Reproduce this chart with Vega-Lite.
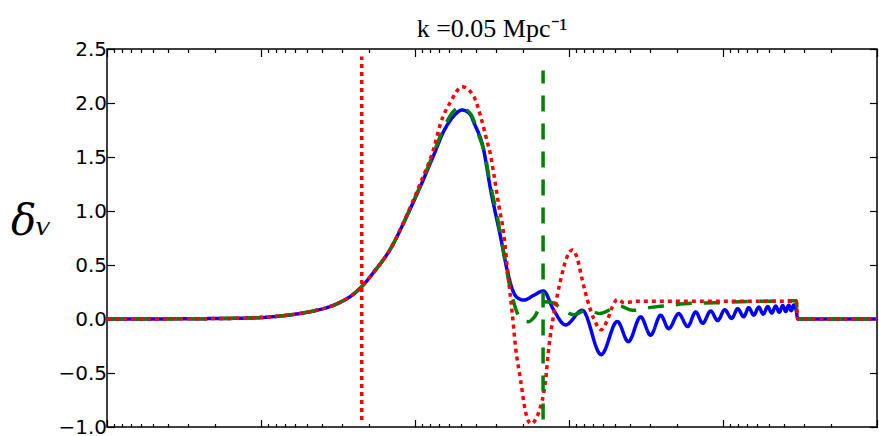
{
  "$schema": "https://vega.github.io/schema/vega-lite/v6.json",
  "width": 770,
  "height": 378,
  "autosize": {"type": "none"},
  "padding": {"left": 107, "top": 49, "right": 2, "bottom": 9},
  "background": "white",
  "config": {
    "view": {"stroke": "black", "strokeWidth": 1.5},
    "axis": {"grid": false, "domain": false, "tickColor": "black", "tickWidth": 1.2}
  },
  "title": {"text": "k =0.05 Mpc⁻¹", "font": "Liberation Serif", "fontSize": 26, "fontWeight": "normal", "color": "black", "offset": -3},
  "datasets": {
    "curves": [
      {"u": 0, "y": 0, "s": "blue"},
      {"u": 0.3463, "y": 0.001, "s": "blue"},
      {"u": 0.6062, "y": 0.003, "s": "blue"},
      {"u": 0.8207, "y": 0.006, "s": "blue"},
      {"u": 0.9961, "y": 0.013, "s": "blue"},
      {"u": 1.1066, "y": 0.025, "s": "blue"},
      {"u": 1.2235, "y": 0.045, "s": "blue"},
      {"u": 1.3405, "y": 0.074, "s": "blue"},
      {"u": 1.4704, "y": 0.127, "s": "blue"},
      {"u": 1.5484, "y": 0.18, "s": "blue"},
      {"u": 1.6004, "y": 0.23, "s": "blue"},
      {"u": 1.6543, "y": 0.3, "s": "blue"},
      {"u": 1.7303, "y": 0.43, "s": "blue"},
      {"u": 1.8408, "y": 0.65, "s": "blue"},
      {"u": 1.9493, "y": 0.96, "s": "blue"},
      {"u": 2.0357, "y": 1.23, "s": "blue"},
      {"u": 2.1222, "y": 1.52, "s": "blue"},
      {"u": 2.1871, "y": 1.74, "s": "blue"},
      {"u": 2.2521, "y": 1.88, "s": "blue"},
      {"u": 2.3067, "y": 1.935, "s": "blue"},
      {"u": 2.3606, "y": 1.89, "s": "blue"},
      {"u": 2.3821, "y": 1.82, "s": "blue"},
      {"u": 2.4451, "y": 1.57, "s": "blue"},
      {"u": 2.4906, "y": 1.2, "s": "blue"},
      {"u": 2.5556, "y": 0.76, "s": "blue"},
      {"u": 2.5991, "y": 0.45, "s": "blue"},
      {"u": 2.642, "y": 0.24, "s": "blue"},
      {"u": 2.6725, "y": 0.19, "s": "blue"},
      {"u": 2.707, "y": 0.175, "s": "blue"},
      {"u": 2.7719, "y": 0.22, "s": "blue"},
      {"u": 2.833, "y": 0.26, "s": "blue"},
      {"u": 2.9019, "y": 0.08, "s": "blue"},
      {"u": 2.9779, "y": -0.055, "s": "blue"},
      {"u": 3.0864, "y": 0.08, "s": "blue"},
      {"u": 3.2086, "y": -0.33, "s": "blue"},
      {"u": 3.3138, "y": -0.022, "s": "blue"},
      {"u": 3.3853, "y": -0.21, "s": "blue"},
      {"u": 3.4652, "y": 0.02, "s": "blue"},
      {"u": 3.5302, "y": -0.15, "s": "blue"},
      {"u": 3.5952, "y": 0.035, "s": "blue"},
      {"u": 3.6472, "y": -0.09, "s": "blue"},
      {"u": 3.7121, "y": 0.05, "s": "blue"},
      {"u": 3.7706, "y": -0.07, "s": "blue"},
      {"u": 3.8226, "y": 0.065, "s": "blue"},
      {"u": 3.8681, "y": -0.04, "s": "blue"},
      {"u": 3.92, "y": 0.075, "s": "blue"},
      {"u": 3.9655, "y": -0.015, "s": "blue"},
      {"u": 4.011, "y": 0.085, "s": "blue"},
      {"u": 4.0565, "y": 0.005, "s": "blue"},
      {"u": 4.0955, "y": 0.095, "s": "blue"},
      {"u": 4.1345, "y": 0.02, "s": "blue"},
      {"u": 4.167, "y": 0.105, "s": "blue"},
      {"u": 4.1995, "y": 0.035, "s": "blue"},
      {"u": 4.232, "y": 0.11, "s": "blue"},
      {"u": 4.2612, "y": 0.045, "s": "blue"},
      {"u": 4.2905, "y": 0.115, "s": "blue"},
      {"u": 4.3165, "y": 0.055, "s": "blue"},
      {"u": 4.3424, "y": 0.12, "s": "blue"},
      {"u": 4.3652, "y": 0.062, "s": "blue"},
      {"u": 4.3879, "y": 0.125, "s": "blue"},
      {"u": 4.4074, "y": 0.07, "s": "blue"},
      {"u": 4.4269, "y": 0.128, "s": "blue"},
      {"u": 4.4431, "y": 0.077, "s": "blue"},
      {"u": 4.4594, "y": 0.13, "s": "blue"},
      {"u": 4.4756, "y": 0.08, "s": "blue"},
      {"u": 4.4854, "y": 0, "s": "blue"},
      {"u": 5, "y": 0, "s": "blue"},

      {"u": 0, "y": 0, "s": "green"},
      {"u": 0.3463, "y": 0.001, "s": "green"},
      {"u": 0.6062, "y": 0.003, "s": "green"},
      {"u": 0.8207, "y": 0.006, "s": "green"},
      {"u": 0.9961, "y": 0.013, "s": "green"},
      {"u": 1.1066, "y": 0.025, "s": "green"},
      {"u": 1.2235, "y": 0.045, "s": "green"},
      {"u": 1.3405, "y": 0.074, "s": "green"},
      {"u": 1.4704, "y": 0.127, "s": "green"},
      {"u": 1.5484, "y": 0.18, "s": "green"},
      {"u": 1.6004, "y": 0.23, "s": "green"},
      {"u": 1.6543, "y": 0.3, "s": "green"},
      {"u": 1.7303, "y": 0.43, "s": "green"},
      {"u": 1.8408, "y": 0.65, "s": "green"},
      {"u": 1.9493, "y": 0.96, "s": "green"},
      {"u": 2.0357, "y": 1.24, "s": "green"},
      {"u": 2.1222, "y": 1.54, "s": "green"},
      {"u": 2.1871, "y": 1.77, "s": "green"},
      {"u": 2.2521, "y": 1.925, "s": "green"},
      {"u": 2.2956, "y": 1.96, "s": "green"},
      {"u": 2.3606, "y": 1.9, "s": "green"},
      {"u": 2.4146, "y": 1.7, "s": "green"},
      {"u": 2.4581, "y": 1.5, "s": "green"},
      {"u": 2.4795, "y": 1.32, "s": "green"},
      {"u": 2.5341, "y": 0.95, "s": "green"},
      {"u": 2.575, "y": 0.62, "s": "green"},
      {"u": 2.6075, "y": 0.36, "s": "green"},
      {"u": 2.64, "y": 0.16, "s": "green"},
      {"u": 2.6725, "y": 0.03, "s": "green"},
      {"u": 2.7115, "y": -0.02, "s": "green"},
      {"u": 2.7375, "y": -0.025, "s": "green"},
      {"u": 2.7764, "y": 0.02, "s": "green"},
      {"u": 2.8317, "y": 0.16, "s": "green"},
      {"u": 2.8935, "y": 0.15, "s": "green"},
      {"u": 2.9584, "y": 0.09, "s": "green"},
      {"u": 3.0299, "y": 0.04, "s": "green"},
      {"u": 3.1208, "y": 0.085, "s": "green"},
      {"u": 3.1988, "y": 0.05, "s": "green"},
      {"u": 3.3288, "y": 0.12, "s": "green"},
      {"u": 3.4133, "y": 0.08, "s": "green"},
      {"u": 3.5432, "y": 0.11, "s": "green"},
      {"u": 3.6472, "y": 0.125, "s": "green"},
      {"u": 3.7901, "y": 0.145, "s": "green"},
      {"u": 3.9526, "y": 0.15, "s": "green"},
      {"u": 4.115, "y": 0.16, "s": "green"},
      {"u": 4.31, "y": 0.165, "s": "green"},
      {"u": 4.4756, "y": 0.17, "s": "green"},
      {"u": 4.4854, "y": 0, "s": "green"},
      {"u": 5, "y": 0, "s": "green"},

      {"u": 0, "y": 0, "s": "red"},
      {"u": 0.3463, "y": 0.001, "s": "red"},
      {"u": 0.6062, "y": 0.003, "s": "red"},
      {"u": 0.8207, "y": 0.006, "s": "red"},
      {"u": 0.9961, "y": 0.013, "s": "red"},
      {"u": 1.1066, "y": 0.025, "s": "red"},
      {"u": 1.2235, "y": 0.045, "s": "red"},
      {"u": 1.3405, "y": 0.074, "s": "red"},
      {"u": 1.4704, "y": 0.127, "s": "red"},
      {"u": 1.5484, "y": 0.18, "s": "red"},
      {"u": 1.6004, "y": 0.23, "s": "red"},
      {"u": 1.6543, "y": 0.3, "s": "red"},
      {"u": 1.7303, "y": 0.43, "s": "red"},
      {"u": 1.8408, "y": 0.65, "s": "red"},
      {"u": 1.9493, "y": 0.97, "s": "red"},
      {"u": 2.0357, "y": 1.26, "s": "red"},
      {"u": 2.1222, "y": 1.58, "s": "red"},
      {"u": 2.1657, "y": 1.81, "s": "red"},
      {"u": 2.2307, "y": 2.01, "s": "red"},
      {"u": 2.3067, "y": 2.15, "s": "red"},
      {"u": 2.3821, "y": 2.06, "s": "red"},
      {"u": 2.4256, "y": 1.88, "s": "red"},
      {"u": 2.4691, "y": 1.64, "s": "red"},
      {"u": 2.4906, "y": 1.52, "s": "red"},
      {"u": 2.512, "y": 1.34, "s": "red"},
      {"u": 2.5445, "y": 1.05, "s": "red"},
      {"u": 2.577, "y": 0.78, "s": "red"},
      {"u": 2.5991, "y": 0.48, "s": "red"},
      {"u": 2.6094, "y": 0.34, "s": "red"},
      {"u": 2.6316, "y": 0.05, "s": "red"},
      {"u": 2.653, "y": -0.26, "s": "red"},
      {"u": 2.6855, "y": -0.565, "s": "red"},
      {"u": 2.718, "y": -0.86, "s": "red"},
      {"u": 2.7537, "y": -0.97, "s": "red"},
      {"u": 2.783, "y": -0.93, "s": "red"},
      {"u": 2.8044, "y": -0.86, "s": "red"},
      {"u": 2.848, "y": -0.565, "s": "red"},
      {"u": 2.8694, "y": -0.26, "s": "red"},
      {"u": 2.9019, "y": 0.05, "s": "red"},
      {"u": 2.9454, "y": 0.36, "s": "red"},
      {"u": 2.9889, "y": 0.58, "s": "red"},
      {"u": 3.0214, "y": 0.64, "s": "red"},
      {"u": 3.0559, "y": 0.55, "s": "red"},
      {"u": 3.0864, "y": 0.36, "s": "red"},
      {"u": 3.1189, "y": 0.18, "s": "red"},
      {"u": 3.1618, "y": 0.0, "s": "red"},
      {"u": 3.2086, "y": -0.1, "s": "red"},
      {"u": 3.2492, "y": -0.01, "s": "red"},
      {"u": 3.2836, "y": 0.12, "s": "red"},
      {"u": 3.3138, "y": 0.18, "s": "red"},
      {"u": 3.3613, "y": 0.15, "s": "red"},
      {"u": 3.4393, "y": 0.165, "s": "red"},
      {"u": 3.8551, "y": 0.165, "s": "red"},
      {"u": 4.4756, "y": 0.165, "s": "red"},
      {"u": 4.4854, "y": 0, "s": "red"},
      {"u": 5, "y": 0, "s": "red"}
    ],
    "vlines": [
      {"u": 1.6543, "y": -0.935, "y2": 2.43, "s": "red"},
      {"u": 2.8317, "y": -0.93, "y2": 2.3, "s": "green"}
    ]
  },
  "layer": [
    {
      "data": {"name": "curves"},
      "mark": {"type": "line", "interpolate": "monotone", "strokeWidth": 3.5, "strokeCap": "butt"},
      "encoding": {
        "x": {
          "field": "u", "type": "quantitative",
          "scale": {"domain": [0, 5], "nice": false, "zero": false},
          "axis": {
            "orient": "bottom", "title": null, "labels": false,
            "values": [0, 0.04576, 0.09691, 0.1549, 0.22185, 0.30103, 0.39794, 0.52288, 0.69897,
                       1, 1.04576, 1.09691, 1.1549, 1.22185, 1.30103, 1.39794, 1.52288, 1.69897,
                       2, 2.04576, 2.09691, 2.1549, 2.22185, 2.30103, 2.39794, 2.52288, 2.69897,
                       3, 3.04576, 3.09691, 3.1549, 3.22185, 3.30103, 3.39794, 3.52288, 3.69897,
                       4, 4.04576, 4.09691, 4.1549, 4.22185, 4.30103, 4.39794, 4.52288, 4.69897, 5],
            "tickSize": {"condition": {"test": "datum.value % 1 == 0", "value": -7.5}, "value": -3.5}
          }
        },
        "y": {
          "field": "y", "type": "quantitative",
          "scale": {"domain": [-1, 2.5], "nice": false, "zero": false},
          "axis": {
            "orient": "left",
            "values": [-1, -0.5, 0, 0.5, 1, 1.5, 2, 2.5],
            "format": ".1f",
            "labelFont": "DejaVu Sans", "labelFontSize": 20, "labelColor": "black",
            "tickSize": -7.5, "labelPadding": 8,
            "title": "δᵥ", "titleAngle": 0, "titleFont": "DejaVu Serif", "titleFontStyle": "italic",
            "titleFontSize": 42, "titleFontWeight": "normal", "titleColor": "black",
            "titleX": -76, "titleY": 172, "titleAlign": "center", "titleBaseline": "middle"
          }
        },
        "color": {"field": "s", "type": "nominal", "scale": {"domain": ["blue", "green", "red"], "range": ["#0000ff", "#008000", "#ff0000"]}, "legend": null},
        "strokeDash": {"field": "s", "type": "nominal", "scale": {"domain": ["blue", "green", "red"], "range": [[1, 0], [16, 12], [4, 4]]}, "legend": null}
      }
    },
    {
      "data": {"name": "vlines"},
      "mark": {"type": "rule", "strokeWidth": 3.5, "strokeCap": "butt"},
      "encoding": {
        "x": {
          "field": "u", "type": "quantitative",
          "axis": {
            "orient": "top", "title": null, "labels": false,
            "values": [0, 0.04576, 0.09691, 0.1549, 0.22185, 0.30103, 0.39794, 0.52288, 0.69897,
                       1, 1.04576, 1.09691, 1.1549, 1.22185, 1.30103, 1.39794, 1.52288, 1.69897,
                       2, 2.04576, 2.09691, 2.1549, 2.22185, 2.30103, 2.39794, 2.52288, 2.69897,
                       3, 3.04576, 3.09691, 3.1549, 3.22185, 3.30103, 3.39794, 3.52288, 3.69897,
                       4, 4.04576, 4.09691, 4.1549, 4.22185, 4.30103, 4.39794, 4.52288, 4.69897, 5],
            "tickSize": {"condition": {"test": "datum.value % 1 == 0", "value": -7.5}, "value": -3.5}
          }
        },
        "y": {
          "field": "y", "type": "quantitative",
          "axis": {"orient": "right", "title": null, "labels": false, "values": [-1, -0.5, 0, 0.5, 1, 1.5, 2, 2.5], "tickSize": -7.5}
        },
        "y2": {"field": "y2"},
        "color": {"field": "s", "type": "nominal", "legend": null},
        "strokeDash": {"field": "s", "type": "nominal", "legend": null}
      }
    }
  ],
  "resolve": {"axis": {"x": "independent", "y": "independent"}}
}
